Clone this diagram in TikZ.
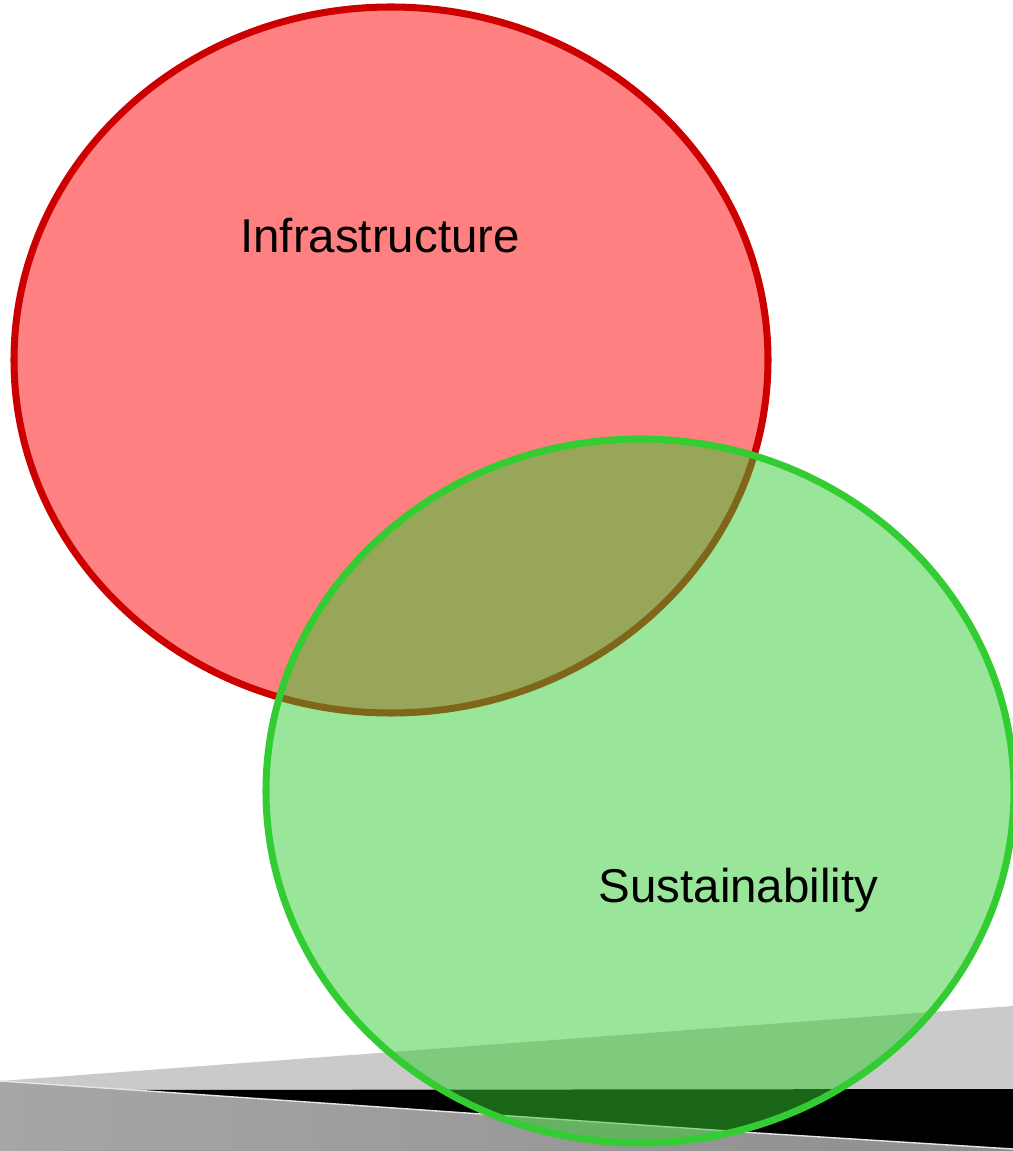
\documentclass[tikz,border=0pt]{standalone}
\usepackage{fontspec}
\setmainfont{Liberation Sans}
\usepackage{xcolor}
\definecolor{infraline}{HTML}{CC0000}
\definecolor{infrafill}{HTML}{FF8080}
\definecolor{sustline}{HTML}{33CC33}
\definecolor{floorlight}{HTML}{CACACA}
\definecolor{floordarkL}{HTML}{A6A6A6}
\definecolor{floordarkR}{HTML}{8E8E8E}
\usetikzlibrary{positioning}

\begin{document}
\begin{tikzpicture}[setline/.style={line width=2pt},
                    lab/.style={font=\fontsize{13.5}{16}\selectfont, anchor=base, inner sep=0pt}]
        \useasboundingbox (0,0) rectangle (10.13,11.51);
        \clip (0,0) rectangle (10.13,11.51);
        % floor wedge at the bottom
        \coordinate (fl) at (0,0.70);
        \coordinate (fm) at (1.33,0.61);
        \coordinate (fn) at (7.57,0.18);
        \coordinate (fr) at (10.13,0.02);
        \fill[floorlight] (fl) -- (10.13,1.45) -- (10.13,0.62) -- (fm) -- cycle;
        \fill[black] (fm) -- (10.13,0.62) -- (fr) -- (fn) -- cycle;
        \shade[left color=floordarkL, right color=floordarkR]
              (fl) -- (fm) -- (fn) -- (fr) -- (10.13,0) -- (0,0) -- cycle;
        \draw[white!80!gray, line width=0.4pt] (fl) -- (fm) -- (fn) -- (fr);
        % the two sets
        \coordinate (infrac) at (3.91,7.91);
        \coordinate (sustc) at (6.40,3.60);
        \draw[setline, infraline, fill=infrafill] (infrac) ellipse [x radius=3.77, y radius=3.53];
        \fill[sustline, fill opacity=0.5] (sustc) ellipse [x radius=3.74, y radius=3.52];
        \draw[setline, sustline] (sustc) ellipse [x radius=3.74, y radius=3.52];
        \node[lab] (infra) at (3.80,8.98) {Infrastructure};
        \node[lab] (sust) at (7.385,2.48) {Sustainability};
      \end{tikzpicture}
\end{document}
